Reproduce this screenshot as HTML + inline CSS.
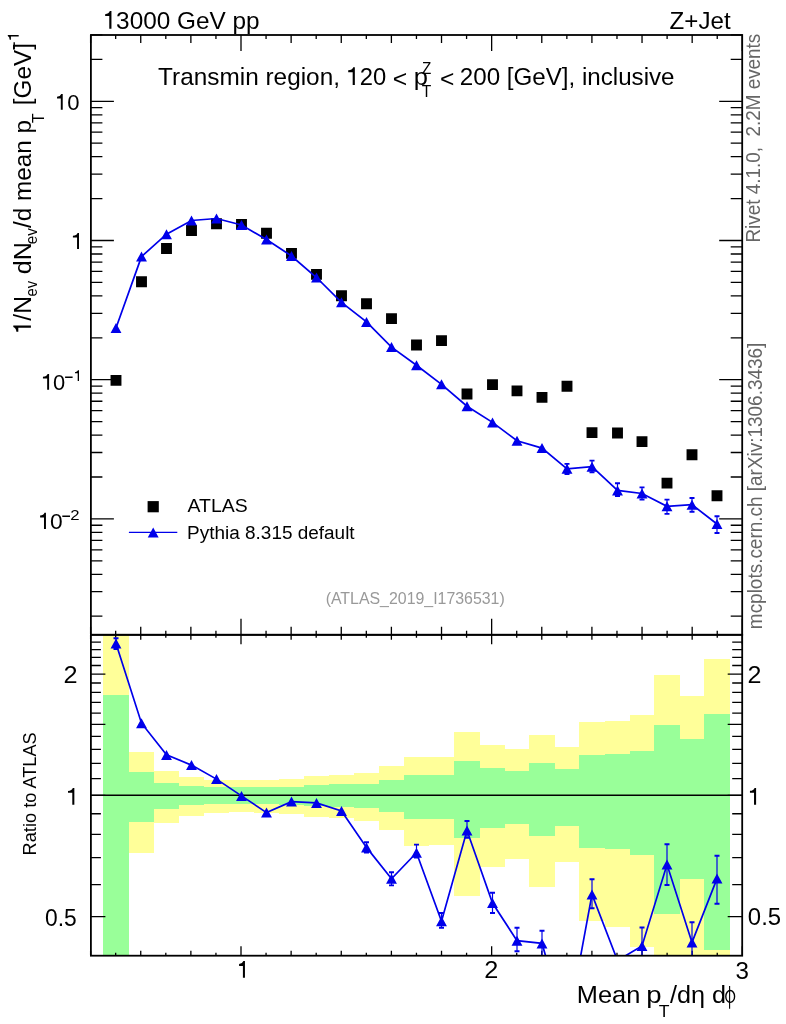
<!DOCTYPE html><html><head><meta charset="utf-8"><style>html,body{margin:0;padding:0;background:#fff;width:786px;height:1024px;overflow:hidden}svg{display:block;will-change:transform}text{font-family:"Liberation Sans",sans-serif}</style></head><body>
<svg width="786" height="1024" viewBox="0 0 786 1024">
<rect x="0" y="0" width="786" height="1024" fill="#fff"/>
<defs><clipPath id="cr"><rect x="90.9" y="634.8" width="651.3000000000001" height="320.9000000000001"/></clipPath><clipPath id="cm"><rect x="90.9" y="35.0" width="651.3000000000001" height="599.8"/></clipPath></defs>
<g clip-path="url(#cr)" shape-rendering="crispEdges">
<rect x="103.00" y="600.00" width="26.00" height="400.00" fill="#ffff99"/>
<rect x="103.00" y="695.20" width="26.00" height="304.80" fill="#99ff99"/>
<rect x="129.00" y="751.70" width="25.00" height="101.00" fill="#ffff99"/>
<rect x="129.00" y="772.10" width="25.00" height="50.10" fill="#99ff99"/>
<rect x="154.00" y="771.00" width="25.00" height="52.20" fill="#ffff99"/>
<rect x="154.00" y="782.90" width="25.00" height="26.20" fill="#99ff99"/>
<rect x="179.00" y="776.80" width="25.00" height="38.70" fill="#ffff99"/>
<rect x="179.00" y="786.10" width="25.00" height="18.90" fill="#99ff99"/>
<rect x="204.00" y="779.60" width="25.00" height="33.30" fill="#ffff99"/>
<rect x="204.00" y="787.20" width="25.00" height="16.50" fill="#99ff99"/>
<rect x="229.00" y="779.80" width="25.00" height="32.40" fill="#ffff99"/>
<rect x="229.00" y="787.30" width="25.00" height="16.40" fill="#99ff99"/>
<rect x="254.00" y="779.80" width="25.00" height="33.30" fill="#ffff99"/>
<rect x="254.00" y="787.30" width="25.00" height="16.40" fill="#99ff99"/>
<rect x="279.00" y="778.90" width="25.00" height="35.10" fill="#ffff99"/>
<rect x="279.00" y="786.70" width="25.00" height="17.80" fill="#99ff99"/>
<rect x="304.00" y="776.00" width="25.00" height="40.70" fill="#ffff99"/>
<rect x="304.00" y="785.10" width="25.00" height="21.20" fill="#99ff99"/>
<rect x="329.00" y="774.80" width="25.00" height="43.60" fill="#ffff99"/>
<rect x="329.00" y="784.20" width="25.00" height="23.00" fill="#99ff99"/>
<rect x="354.00" y="773.10" width="25.00" height="47.40" fill="#ffff99"/>
<rect x="354.00" y="783.80" width="25.00" height="23.80" fill="#99ff99"/>
<rect x="379.00" y="766.30" width="25.00" height="63.30" fill="#ffff99"/>
<rect x="379.00" y="780.20" width="25.00" height="31.50" fill="#99ff99"/>
<rect x="404.00" y="756.50" width="25.00" height="89.20" fill="#ffff99"/>
<rect x="404.00" y="774.90" width="25.00" height="43.60" fill="#99ff99"/>
<rect x="429.00" y="757.00" width="25.00" height="88.00" fill="#ffff99"/>
<rect x="429.00" y="774.90" width="25.00" height="43.60" fill="#99ff99"/>
<rect x="454.00" y="732.10" width="26.00" height="163.60" fill="#ffff99"/>
<rect x="454.00" y="761.00" width="26.00" height="77.40" fill="#99ff99"/>
<rect x="480.00" y="745.10" width="25.00" height="121.60" fill="#ffff99"/>
<rect x="480.00" y="768.00" width="25.00" height="59.90" fill="#99ff99"/>
<rect x="505.00" y="749.00" width="24.00" height="109.80" fill="#ffff99"/>
<rect x="505.00" y="770.70" width="24.00" height="53.70" fill="#99ff99"/>
<rect x="529.00" y="735.10" width="26.00" height="151.70" fill="#ffff99"/>
<rect x="529.00" y="762.90" width="26.00" height="72.60" fill="#99ff99"/>
<rect x="555.00" y="747.20" width="24.00" height="115.00" fill="#ffff99"/>
<rect x="555.00" y="769.10" width="24.00" height="56.80" fill="#99ff99"/>
<rect x="579.00" y="722.10" width="26.00" height="199.10" fill="#ffff99"/>
<rect x="579.00" y="755.10" width="26.00" height="92.50" fill="#99ff99"/>
<rect x="605.00" y="721.10" width="25.00" height="205.90" fill="#ffff99"/>
<rect x="605.00" y="754.10" width="25.00" height="94.60" fill="#99ff99"/>
<rect x="630.00" y="715.00" width="24.00" height="232.00" fill="#ffff99"/>
<rect x="630.00" y="750.70" width="24.00" height="104.70" fill="#99ff99"/>
<rect x="654.00" y="674.90" width="26.00" height="325.10" fill="#ffff99"/>
<rect x="654.00" y="724.90" width="26.00" height="188.70" fill="#99ff99"/>
<rect x="680.00" y="695.90" width="24.00" height="304.10" fill="#ffff99"/>
<rect x="680.00" y="738.90" width="24.00" height="140.00" fill="#99ff99"/>
<rect x="704.00" y="659.10" width="26.00" height="340.90" fill="#ffff99"/>
<rect x="704.00" y="714.00" width="26.00" height="235.80" fill="#99ff99"/>
</g>
<path d="M90.90 616.20h11.5M742.20 616.20h-11.5M90.90 591.68h11.5M742.20 591.68h-11.5M90.90 574.29h11.5M742.20 574.29h-11.5M90.90 560.80h11.5M742.20 560.80h-11.5M90.90 549.78h11.5M742.20 549.78h-11.5M90.90 540.46h11.5M742.20 540.46h-11.5M90.90 532.39h11.5M742.20 532.39h-11.5M90.90 525.27h11.5M742.20 525.27h-11.5M90.90 518.90h23M742.20 518.90h-23M90.90 477.00h11.5M742.20 477.00h-11.5M90.90 452.48h11.5M742.20 452.48h-11.5M90.90 435.09h11.5M742.20 435.09h-11.5M90.90 421.60h11.5M742.20 421.60h-11.5M90.90 410.58h11.5M742.20 410.58h-11.5M90.90 401.26h11.5M742.20 401.26h-11.5M90.90 393.19h11.5M742.20 393.19h-11.5M90.90 386.07h11.5M742.20 386.07h-11.5M90.90 379.70h23M742.20 379.70h-23M90.90 337.80h11.5M742.20 337.80h-11.5M90.90 313.28h11.5M742.20 313.28h-11.5M90.90 295.89h11.5M742.20 295.89h-11.5M90.90 282.40h11.5M742.20 282.40h-11.5M90.90 271.38h11.5M742.20 271.38h-11.5M90.90 262.06h11.5M742.20 262.06h-11.5M90.90 253.99h11.5M742.20 253.99h-11.5M90.90 246.87h11.5M742.20 246.87h-11.5M90.90 240.50h23M742.20 240.50h-23M90.90 198.60h11.5M742.20 198.60h-11.5M90.90 174.08h11.5M742.20 174.08h-11.5M90.90 156.69h11.5M742.20 156.69h-11.5M90.90 143.20h11.5M742.20 143.20h-11.5M90.90 132.18h11.5M742.20 132.18h-11.5M90.90 122.86h11.5M742.20 122.86h-11.5M90.90 114.79h11.5M742.20 114.79h-11.5M90.90 107.67h11.5M742.20 107.67h-11.5M90.90 101.30h23M742.20 101.30h-23M90.90 59.40h11.5M742.20 59.40h-11.5M90.90 34.88h11.5M742.20 34.88h-11.5" stroke="#000" stroke-width="1.3" fill="none"/>
<path d="M90.90 916.57h14.5M742.20 916.57h-14.5M90.90 884.67h10M742.20 884.67h-10M90.90 857.70h10M742.20 857.70h-10M90.90 834.34h10M742.20 834.34h-10M90.90 813.73h10M742.20 813.73h-10M90.90 795.30h14.5M742.20 795.30h-14.5M90.90 778.62h10M742.20 778.62h-10M90.90 763.40h10M742.20 763.40h-10M90.90 749.40h10M742.20 749.40h-10M90.90 736.43h10M742.20 736.43h-10M90.90 724.36h14.5M742.20 724.36h-14.5M90.90 713.07h10M742.20 713.07h-10M90.90 702.46h10M742.20 702.46h-10M90.90 692.46h10M742.20 692.46h-10M90.90 683.00h10M742.20 683.00h-10M90.90 674.03h14.5M742.20 674.03h-14.5M90.90 665.49h10M742.20 665.49h-10M90.90 657.36h10M742.20 657.36h-10M90.90 649.58h10M742.20 649.58h-10M90.90 642.13h10M742.20 642.13h-10" stroke="#000" stroke-width="1.3" fill="none"/>
<path d="M90.61 35.0v8M90.61 634.8v-8M115.67 35.0v4M115.67 634.8v-4M140.74 35.0v8M140.74 634.8v-8M165.81 35.0v4M165.81 634.8v-4M190.87 35.0v8M190.87 634.8v-8M215.94 35.0v4M215.94 634.8v-4M241.00 35.0v16M241.00 634.8v-16M266.06 35.0v4M266.06 634.8v-4M291.13 35.0v8M291.13 634.8v-8M316.19 35.0v4M316.19 634.8v-4M341.26 35.0v8M341.26 634.8v-8M366.32 35.0v4M366.32 634.8v-4M391.39 35.0v8M391.39 634.8v-8M416.45 35.0v4M416.45 634.8v-4M441.52 35.0v8M441.52 634.8v-8M466.58 35.0v4M466.58 634.8v-4M491.65 35.0v16M491.65 634.8v-16M516.72 35.0v4M516.72 634.8v-4M541.78 35.0v8M541.78 634.8v-8M566.85 35.0v4M566.85 634.8v-4M591.91 35.0v8M591.91 634.8v-8M616.98 35.0v4M616.98 634.8v-4M642.04 35.0v8M642.04 634.8v-8M667.11 35.0v4M667.11 634.8v-4M692.17 35.0v8M692.17 634.8v-8M717.24 35.0v4M717.24 634.8v-4M742.30 35.0v16M742.30 634.8v-16" stroke="#000" stroke-width="1.3" fill="none"/>
<path d="M90.61 955.7v-5M90.61 634.8v5M115.67 955.7v-3M115.67 634.8v3M140.74 955.7v-5M140.74 634.8v5M165.81 955.7v-3M165.81 634.8v3M190.87 955.7v-5M190.87 634.8v5M215.94 955.7v-3M215.94 634.8v3M241.00 955.7v-9.5M241.00 634.8v9.5M266.06 955.7v-3M266.06 634.8v3M291.13 955.7v-5M291.13 634.8v5M316.19 955.7v-3M316.19 634.8v3M341.26 955.7v-5M341.26 634.8v5M366.32 955.7v-3M366.32 634.8v3M391.39 955.7v-5M391.39 634.8v5M416.45 955.7v-3M416.45 634.8v3M441.52 955.7v-5M441.52 634.8v5M466.58 955.7v-3M466.58 634.8v3M491.65 955.7v-9.5M491.65 634.8v9.5M516.72 955.7v-3M516.72 634.8v3M541.78 955.7v-5M541.78 634.8v5M566.85 955.7v-3M566.85 634.8v3M591.91 955.7v-5M591.91 634.8v5M616.98 955.7v-3M616.98 634.8v3M642.04 955.7v-5M642.04 634.8v5M667.11 955.7v-3M667.11 634.8v3M692.17 955.7v-5M692.17 634.8v5M717.24 955.7v-3M717.24 634.8v3M742.30 955.7v-9.5M742.30 634.8v9.5" stroke="#000" stroke-width="1.3" fill="none"/>
<path d="M90.9 795.30H742.2" stroke="#000" stroke-width="1.5"/>
<g clip-path="url(#cm)">
<path d="M110.55 374.95h10.9v10.9h-10.9ZM136.05 276.35h10.9v10.9h-10.9ZM161.05 243.05h10.9v10.9h-10.9ZM186.05 225.05h10.9v10.9h-10.9ZM211.05 218.25h10.9v10.9h-10.9ZM236.05 218.95h10.9v10.9h-10.9ZM261.05 227.85h10.9v10.9h-10.9ZM286.05 247.95h10.9v10.9h-10.9ZM311.05 268.95h10.9v10.9h-10.9ZM336.05 290.25h10.9v10.9h-10.9ZM361.05 298.35h10.9v10.9h-10.9ZM386.05 313.15h10.9v10.9h-10.9ZM411.05 339.55h10.9v10.9h-10.9ZM436.05 335.15h10.9v10.9h-10.9ZM461.55 388.55h10.9v10.9h-10.9ZM487.05 379.15h10.9v10.9h-10.9ZM511.55 385.45h10.9v10.9h-10.9ZM536.55 391.95h10.9v10.9h-10.9ZM561.55 380.75h10.9v10.9h-10.9ZM586.55 427.15h10.9v10.9h-10.9ZM612.05 427.55h10.9v10.9h-10.9ZM636.55 436.15h10.9v10.9h-10.9ZM661.55 477.65h10.9v10.9h-10.9ZM686.55 449.35h10.9v10.9h-10.9ZM711.55 490.25h10.9v10.9h-10.9Z" fill="#000"/>
<polyline points="116.00,328.00 141.50,256.60 166.50,234.20 191.50,220.50 216.50,218.50 241.50,225.00 266.50,239.50 291.50,256.00 316.50,277.50 341.50,302.30 366.50,321.90 391.50,347.10 416.50,365.20 441.50,384.30 467.00,406.20 492.50,422.40 517.00,440.70 542.00,448.10 567.00,468.80 592.00,466.70 617.50,490.40 642.00,493.50 667.00,506.30 692.00,504.70 717.00,524.00" fill="none" stroke="#0000ea" stroke-width="1.7"/>
<path d="M567.00 463.9V474.0M592.00 460.6V472.4M617.50 483.3V496.0M642.00 487.4V499.6M667.00 499.6V513.9M692.00 498.0V511.8M717.00 516.3V533.0" stroke="#0000ea" stroke-width="1.2" fill="none"/>
<path d="M564.50 462.95h5v1.9h-5ZM564.50 473.05h5v1.9h-5ZM589.50 459.65h5v1.9h-5ZM589.50 471.45h5v1.9h-5ZM615.00 482.35h5v1.9h-5ZM615.00 495.05h5v1.9h-5ZM639.50 486.45h5v1.9h-5ZM639.50 498.65h5v1.9h-5ZM664.50 498.65h5v1.9h-5ZM664.50 512.95h5v1.9h-5ZM689.50 497.05h5v1.9h-5ZM689.50 510.85h5v1.9h-5ZM714.50 515.35h5v1.9h-5ZM714.50 532.05h5v1.9h-5Z" fill="#0000ea"/>
<path d="M116.00 323.00L121.45 333.00L110.55 333.00ZM141.50 251.60L146.95 261.60L136.05 261.60ZM166.50 229.20L171.95 239.20L161.05 239.20ZM191.50 215.50L196.95 225.50L186.05 225.50ZM216.50 213.50L221.95 223.50L211.05 223.50ZM241.50 220.00L246.95 230.00L236.05 230.00ZM266.50 234.50L271.95 244.50L261.05 244.50ZM291.50 251.00L296.95 261.00L286.05 261.00ZM316.50 272.50L321.95 282.50L311.05 282.50ZM341.50 297.30L346.95 307.30L336.05 307.30ZM366.50 316.90L371.95 326.90L361.05 326.90ZM391.50 342.10L396.95 352.10L386.05 352.10ZM416.50 360.20L421.95 370.20L411.05 370.20ZM441.50 379.30L446.95 389.30L436.05 389.30ZM467.00 401.20L472.45 411.20L461.55 411.20ZM492.50 417.40L497.95 427.40L487.05 427.40ZM517.00 435.70L522.45 445.70L511.55 445.70ZM542.00 443.10L547.45 453.10L536.55 453.10ZM567.00 463.80L572.45 473.80L561.55 473.80ZM592.00 461.70L597.45 471.70L586.55 471.70ZM617.50 485.40L622.95 495.40L612.05 495.40ZM642.00 488.50L647.45 498.50L636.55 498.50ZM667.00 501.30L672.45 511.30L661.55 511.30ZM692.00 499.70L697.45 509.70L686.55 509.70ZM717.00 519.00L722.45 529.00L711.55 529.00Z" fill="#0000ea"/>
</g>
<g clip-path="url(#cr)">
<polyline points="116.00,643.50 141.50,723.20 166.50,754.90 191.50,765.10 216.50,779.10 241.50,795.90 266.50,812.60 291.50,801.60 316.50,802.90 341.50,811.00 366.50,847.40 391.50,878.80 416.50,852.70 441.50,921.20 467.00,830.50 492.50,903.00 517.00,940.70 542.00,943.40 567.00,1030.00 592.00,894.40 617.50,960.50 642.00,946.00 667.00,864.50 692.00,942.40 717.00,878.60" fill="none" stroke="#0000ea" stroke-width="1.7"/>
<path d="M116.00 638.2V649M366.50 842.2V852.5M391.50 872.2V885.4M416.50 844.6V857.5M441.50 913.0V927.8M467.00 821.0V837.8M492.50 892.7V913.0M517.00 927.8V951.3M542.00 930.8V960M592.00 879.3V908.2M642.00 927.5V965M667.00 844.3V885.0M692.00 922.2V965M717.00 855.8V903.7" stroke="#0000ea" stroke-width="1.2" fill="none"/>
<path d="M113.50 637.25h5v1.9h-5ZM113.50 648.05h5v1.9h-5ZM364.00 841.25h5v1.9h-5ZM364.00 851.55h5v1.9h-5ZM389.00 871.25h5v1.9h-5ZM389.00 884.45h5v1.9h-5ZM414.00 843.65h5v1.9h-5ZM414.00 856.55h5v1.9h-5ZM439.00 912.05h5v1.9h-5ZM439.00 926.85h5v1.9h-5ZM464.50 820.05h5v1.9h-5ZM464.50 836.85h5v1.9h-5ZM490.00 891.75h5v1.9h-5ZM490.00 912.05h5v1.9h-5ZM514.50 926.85h5v1.9h-5ZM514.50 950.35h5v1.9h-5ZM539.50 929.85h5v1.9h-5ZM539.50 959.05h5v1.9h-5ZM589.50 878.35h5v1.9h-5ZM589.50 907.25h5v1.9h-5ZM639.50 926.55h5v1.9h-5ZM639.50 964.05h5v1.9h-5ZM664.50 843.35h5v1.9h-5ZM664.50 884.05h5v1.9h-5ZM689.50 921.25h5v1.9h-5ZM689.50 964.05h5v1.9h-5ZM714.50 854.85h5v1.9h-5ZM714.50 902.75h5v1.9h-5Z" fill="#0000ea"/>
<path d="M116.00 638.50L121.45 648.50L110.55 648.50ZM141.50 718.20L146.95 728.20L136.05 728.20ZM166.50 749.90L171.95 759.90L161.05 759.90ZM191.50 760.10L196.95 770.10L186.05 770.10ZM216.50 774.10L221.95 784.10L211.05 784.10ZM241.50 790.90L246.95 800.90L236.05 800.90ZM266.50 807.60L271.95 817.60L261.05 817.60ZM291.50 796.60L296.95 806.60L286.05 806.60ZM316.50 797.90L321.95 807.90L311.05 807.90ZM341.50 806.00L346.95 816.00L336.05 816.00ZM366.50 842.40L371.95 852.40L361.05 852.40ZM391.50 873.80L396.95 883.80L386.05 883.80ZM416.50 847.70L421.95 857.70L411.05 857.70ZM441.50 916.20L446.95 926.20L436.05 926.20ZM467.00 825.50L472.45 835.50L461.55 835.50ZM492.50 898.00L497.95 908.00L487.05 908.00ZM517.00 935.70L522.45 945.70L511.55 945.70ZM542.00 938.40L547.45 948.40L536.55 948.40ZM567.00 1025.00L572.45 1035.00L561.55 1035.00ZM592.00 889.40L597.45 899.40L586.55 899.40ZM617.50 955.50L622.95 965.50L612.05 965.50ZM642.00 941.00L647.45 951.00L636.55 951.00ZM667.00 859.50L672.45 869.50L661.55 869.50ZM692.00 937.40L697.45 947.40L686.55 947.40ZM717.00 873.60L722.45 883.60L711.55 883.60Z" fill="#0000ea"/>
</g>
<rect x="90.9" y="35.0" width="651.30" height="599.80" fill="none" stroke="#000" stroke-width="1.8"/>
<rect x="90.9" y="634.8" width="651.30" height="320.90" fill="none" stroke="#000" stroke-width="1.8"/>
<text transform="translate(116.10,29.10) scale(0.9986,1)" font-size="24.4" fill="#000" xml:space="preserve">3000 GeV pp</text>
<text transform="translate(669.61,28.60) scale(0.9885,1)" font-size="24.4" fill="#000" xml:space="preserve">Z+Jet</text>
<text transform="translate(158.10,85.00) scale(0.9989,1)" font-size="24.4" fill="#000" xml:space="preserve">Transmin region,</text>
<text transform="translate(359.73,85.00) scale(0.9760,1)" font-size="24.4" fill="#000" xml:space="preserve">20</text>
<text transform="translate(392.78,86.80) scale(1.0168,1)" font-size="24.4" fill="#000" xml:space="preserve">&lt;</text>
<text transform="translate(413.63,85.00) scale(1.0459,1)" font-size="24.4" fill="#000" xml:space="preserve">p</text>
<text transform="translate(439.89,86.80) scale(1.0084,1)" font-size="24.4" fill="#000" xml:space="preserve">&lt;</text>
<text transform="translate(422.04,73.70) scale(0.9231,1)" font-size="16.5" fill="#000" xml:space="preserve">Z</text>
<text transform="translate(421.72,96.60) scale(0.9462,1)" font-size="16.5" fill="#000" xml:space="preserve">T</text>
<text transform="translate(459.81,85.00) scale(0.9902,1)" font-size="24.4" fill="#000" xml:space="preserve">200 [GeV], inclusive</text>
<text transform="translate(67.21,110.00) scale(0.9906,1)" font-size="22.3" fill="#000" xml:space="preserve">0</text>
<text transform="translate(53.02,390.30) scale(0.9811,1)" font-size="22.3" fill="#000" xml:space="preserve">0</text>
<text transform="translate(49.98,529.20) scale(1.0236,1)" font-size="22.3" fill="#000" xml:space="preserve">0</text>
<text transform="translate(70.21,519.80) scale(1.1176,1)" font-size="15" fill="#000" xml:space="preserve">2</text>
<text transform="translate(63.46,682.90) scale(1.0360,1)" font-size="24.4" fill="#000" xml:space="preserve">2</text>
<text transform="translate(45.07,925.50) scale(0.9342,1)" font-size="24.4" fill="#000" xml:space="preserve">0.5</text>
<text transform="translate(747.57,682.80) scale(1.0270,1)" font-size="24.4" fill="#000" xml:space="preserve">2</text>
<text transform="translate(747.82,925.10) scale(0.9812,1)" font-size="24.4" fill="#000" xml:space="preserve">0.5</text>
<text transform="translate(484.26,977.90) scale(1.0360,1)" font-size="24.4" fill="#000" xml:space="preserve">2</text>
<text transform="translate(735.51,978.50) scale(0.9914,1)" font-size="24.4" fill="#000" xml:space="preserve">3</text>
<text transform="translate(576.82,1003.10) scale(1.0400,1)" font-size="24.4" fill="#000" xml:space="preserve">Mean</text>
<text transform="translate(646.29,1003.20) scale(1.1284,1)" font-size="24.4" fill="#000" xml:space="preserve">p</text>
<text transform="translate(658.67,1016.60) scale(1.0645,1)" font-size="16.5" fill="#000" xml:space="preserve">T</text>
<text transform="translate(670.00,1003.40) scale(1.0342,1)" font-size="24.4" fill="#000" xml:space="preserve">/dη d</text>
<text transform="translate(187.50,511.90) scale(1.0242,1)" font-size="19" fill="#000" xml:space="preserve">ATLAS</text>
<text transform="translate(187.10,539.00) scale(0.9982,1)" font-size="19" fill="#000" xml:space="preserve">Pythia 8.315 default</text>
<text transform="translate(325.63,603.80) scale(0.9705,1)" font-size="16.4" fill="#999" xml:space="preserve">(ATLAS_2019_I1736531)</text>
<text transform="translate(30.80,320.70) rotate(-90) scale(1.0134,1)" font-size="24.4" fill="#000" xml:space="preserve">/N</text>
<text transform="translate(37.40,296.53) rotate(-90) scale(0.8976,1)" font-size="16.5" fill="#000" xml:space="preserve">ev</text>
<text transform="translate(31.10,274.13) rotate(-90) scale(1.0319,1)" font-size="24.4" fill="#000" xml:space="preserve">dN</text>
<text transform="translate(37.40,244.25) rotate(-90) scale(0.9217,1)" font-size="16.5" fill="#000" xml:space="preserve">ev</text>
<text transform="translate(31.00,227.90) rotate(-90) scale(0.9935,1)" font-size="24.4" fill="#000" xml:space="preserve">/d mean p</text>
<text transform="translate(43.80,123.08) rotate(-90) scale(0.9570,1)" font-size="16.5" fill="#000" xml:space="preserve">T</text>
<text transform="translate(31.00,105.30) rotate(-90) scale(0.9983,1)" font-size="24.4" fill="#000" xml:space="preserve">[GeV]</text>
<text transform="translate(36.10,855.46) rotate(-90) scale(0.9750,1)" font-size="18.7" fill="#000" xml:space="preserve">Ratio to ATLAS</text>
<text transform="translate(760.20,242.51) rotate(-90) scale(0.9447,1)" font-size="20" fill="#666" xml:space="preserve">Rivet 4.1.0,  2.2M events</text>
<text transform="translate(761.90,629.14) rotate(-90) scale(0.9572,1)" font-size="19.8" fill="#666" xml:space="preserve">mcplots.cern.ch [arXiv:1306.3436]</text>
<path d="M62.73 93.92V109.77H60.80V98.44H57.03V96.69Q60.40 96.46 61.28 93.92ZM79.00 232.90V248.90H77.05V237.46H72.90V235.70Q76.65 235.46 77.54 232.90ZM49.09 374.00V389.80H47.16V378.50H42.94V376.76Q46.76 376.53 47.64 374.00ZM79.00 370.30V381.00H77.69V373.35H75.00V372.17Q77.29 372.01 78.02 370.30ZM45.95 512.80V528.90H43.99V517.39H40.10V515.62Q43.59 515.38 44.48 512.80ZM111.45 11.05V28.80H109.28V16.11H105.15V14.16Q108.88 13.89 109.83 11.05ZM354.85 67.15V84.90H352.68V72.21H348.20V70.26Q352.28 69.99 353.23 67.15ZM74.35 787.95V804.80H72.29V792.75H68.00V790.90Q71.89 790.65 72.81 787.95ZM756.10 787.90V804.87H754.03V792.74H749.95V790.87Q753.63 790.62 754.55 787.90ZM244.95 961.10V977.86H242.91V965.88H239.10V964.03Q242.51 963.78 243.42 961.10Z" fill="#000"/>
<path transform="translate(18.7,39.8) rotate(-90)" d="M4.70 -10.90V0.00H3.37V-7.79H0.00V-8.99Q2.97 -9.16 3.70 -10.90Z" fill="#000"/>
<path transform="translate(30.9,331.75) rotate(-90)" d="M6.25 -17.60V0.00H4.10V-12.58H0.00V-14.52Q3.70 -14.78 4.64 -17.60Z" fill="#000"/>
<ellipse cx="730.2" cy="996.4" rx="4.4" ry="5.9" fill="none" stroke="#000" stroke-width="1.35"/>
<path d="M729.6 985.9V1008.7" stroke="#000" stroke-width="1.1"/>
<path d="M65.1 377.2H72.6M62.3 516.2H70" stroke="#000" stroke-width="1.5"/>
<path d="M14.2 42.2V49.3" stroke="#000" stroke-width="1.4"/>
<rect x="147.6" y="501.1" width="11.2" height="11.2" fill="#000"/>
<path d="M128.9 532.4H177.3" stroke="#0000ea" stroke-width="1.2"/>
<path d="M153.20 527.50L158.65 537.50L147.75 537.50Z" fill="#0000ea"/>
</svg></body></html>
